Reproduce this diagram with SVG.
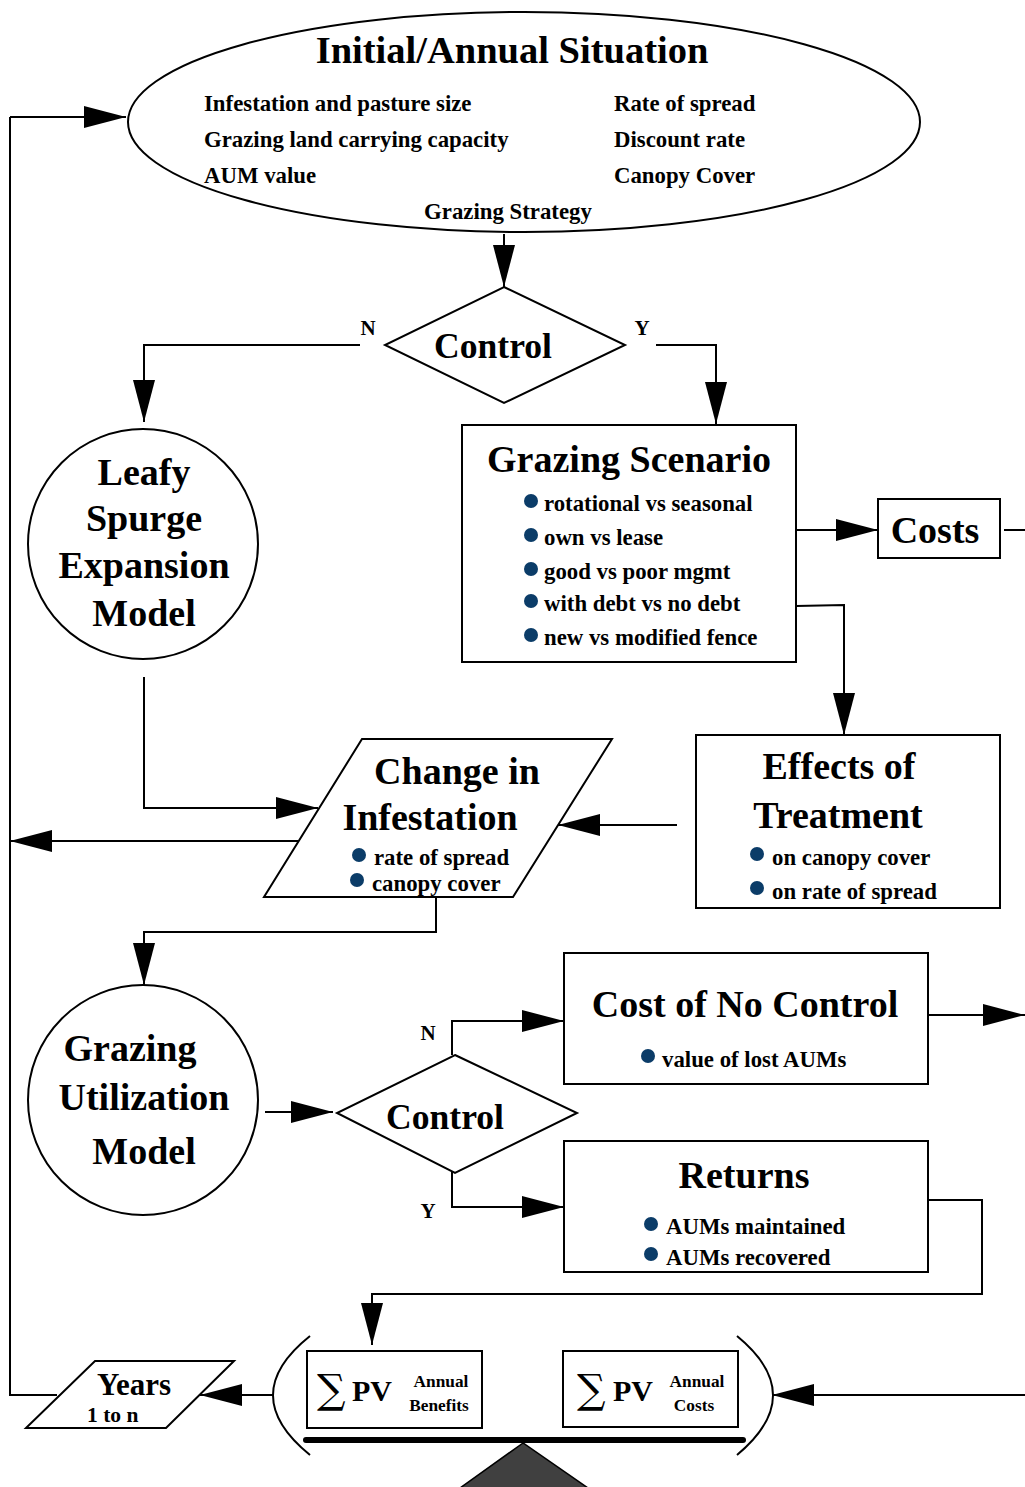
<svg xmlns="http://www.w3.org/2000/svg" width="1025" height="1487" viewBox="0 0 1025 1487">
<defs>
<style>
text{font-family:"Liberation Serif","Times New Roman",serif;font-weight:bold;fill:#000}
.sh{fill:#fff;stroke:#000;stroke-width:2}
.ln{fill:none;stroke:#000;stroke-width:2}
.arr{fill:none;stroke:#000;stroke-width:2;marker-end:url(#ah)}
.t34{font-size:35.6px}
.t36{font-size:38px}
.t21{font-size:22.8px}
.t20{font-size:21px}
.b{fill:#0b3c68}
.c{text-anchor:middle}
</style>
<marker id="ah" markerUnits="userSpaceOnUse" markerWidth="44" markerHeight="24" refX="42" refY="11" orient="auto">
<path d="M0,0 L42,11 L0,22 z" fill="#000"/>
</marker>
</defs>
<rect width="1025" height="1487" fill="#fff"/>

<g id="connectors">
<path class="arr" d="M504,234 L504,287"/>
<path class="arr" d="M360,345 L144,345 L144,422"/>
<path class="arr" d="M656,345 L716,345 L716,424"/>
<path class="arr" d="M796,530 L878,530"/>
<path class="ln" d="M1004,530 L1025,530"/>
<path class="arr" d="M796,606 L844,605 L844,735"/>
<path class="arr" d="M677,825 L558,825"/>
<path class="arr" d="M144,677 L144,808 L318,808"/>
<path class="arr" d="M298,841 L10,841"/>
<path class="ln" d="M57,1395 L10,1395 L10,117"/>
<path class="arr" d="M10,117 L126,117"/>
<path class="arr" d="M436,897 L436,932 L144,932 L144,985"/>
<path class="arr" d="M265,1112 L333,1112"/>
<path class="arr" d="M452,1055 L452,1021 L564,1021"/>
<path class="arr" d="M452,1172 L452,1207 L564,1207"/>
<path class="arr" d="M928,1015 L1025,1015"/>
<path class="arr" d="M926,1200 L982,1200 L982,1294 L372,1294 L372,1345"/>
<path class="arr" d="M273,1395 L200,1395"/>
<path class="arr" d="M1025,1395 L772,1395"/>
</g>

<g id="initial">
<ellipse class="sh" cx="524" cy="122" rx="396" ry="110"/>
<text class="c" x="512" y="63" style="font-size:38.5px">Initial/Annual Situation</text>
<text class="t21" x="204" y="111">Infestation and pasture size</text>
<text class="t21" x="204" y="147">Grazing land carrying capacity</text>
<text class="t21" x="204" y="183">AUM value</text>
<text class="t21" x="614" y="111">Rate of spread</text>
<text class="t21" x="614" y="147">Discount rate</text>
<text class="t21" x="614" y="183">Canopy Cover</text>
<text class="t21 c" x="508" y="219">Grazing Strategy</text>
</g>

<g id="control1">
<polygon class="sh" points="504,287 625,345 504,403 385,345"/>
<text class="t34 c" x="493" y="358">Control</text>
<text class="t20 c" x="368" y="335">N</text>
<text class="t20 c" x="642" y="335">Y</text>
</g>

<g id="leafy">
<circle class="sh" cx="143" cy="544" r="115"/>
<text class="t36 c" x="144" y="485">Leafy</text>
<text class="t36 c" x="144" y="531">Spurge</text>
<text class="t36 c" x="144" y="578">Expansion</text>
<text class="t36 c" x="144" y="626">Model</text>
</g>

<g id="scenario">
<rect class="sh" x="462" y="425" width="334" height="237"/>
<text class="t36 c" x="629" y="472">Grazing Scenario</text>
<circle class="b" cx="531" cy="501" r="7"/>
<circle class="b" cx="531" cy="535" r="7"/>
<circle class="b" cx="531" cy="569" r="7"/>
<circle class="b" cx="531" cy="601" r="7"/>
<circle class="b" cx="531" cy="635" r="7"/>
<text class="t21" x="544" y="511">rotational vs seasonal</text>
<text class="t21" x="544" y="545">own vs lease</text>
<text class="t21" x="544" y="579">good vs poor mgmt</text>
<text class="t21" x="544" y="611">with debt vs no debt</text>
<text class="t21" x="544" y="645">new vs modified fence</text>
</g>

<g id="costs">
<rect class="sh" x="878" y="499" width="122" height="59"/>
<text class="t36 c" x="935" y="543">Costs</text>
</g>

<g id="effects">
<rect class="sh" x="696" y="735" width="304" height="173"/>
<text class="t36 c" x="839" y="779">Effects of</text>
<text class="t36 c" x="838" y="828">Treatment</text>
<circle class="b" cx="757" cy="854" r="7"/>
<circle class="b" cx="757" cy="888" r="7"/>
<text class="t21" x="772" y="865">on canopy cover</text>
<text class="t21" x="772" y="899">on rate of spread</text>
</g>

<g id="change">
<polygon class="sh" points="362,739 612,739 513,897 264,897"/>
<text class="t36 c" x="457" y="784">Change in</text>
<text class="t36 c" x="430" y="830">Infestation</text>
<circle class="b" cx="359" cy="855" r="7"/>
<circle class="b" cx="357" cy="880" r="7"/>
<text class="t21" x="374" y="865">rate of spread</text>
<text class="t21" x="372" y="891">canopy cover</text>
</g>

<g id="utilization">
<circle class="sh" cx="143" cy="1100" r="115"/>
<text class="t36 c" x="130" y="1061">Grazing</text>
<text class="t36 c" x="144" y="1110">Utilization</text>
<text class="t36 c" x="144" y="1164">Model</text>
</g>

<g id="control2">
<polygon class="sh" points="455,1055 577,1113 455,1173 337,1113"/>
<text class="t34 c" x="445" y="1129">Control</text>
<text class="t20 c" x="428" y="1040">N</text>
<text class="t20 c" x="428" y="1218">Y</text>
</g>

<g id="nocontrol">
<rect class="sh" x="564" y="953" width="364" height="131"/>
<text class="t36 c" x="745" y="1017">Cost of No Control</text>
<circle class="b" cx="648" cy="1056" r="7"/>
<text class="t21" x="662" y="1067">value of lost AUMs</text>
</g>

<g id="returns">
<rect class="sh" x="564" y="1141" width="364" height="131"/>
<text class="t36 c" x="744" y="1188">Returns</text>
<circle class="b" cx="651" cy="1224" r="7"/>
<circle class="b" cx="651" cy="1254" r="7"/>
<text class="t21" x="666" y="1234">AUMs maintained</text>
<text class="t21" x="666" y="1265">AUMs recovered</text>
</g>

<g id="balance">
<path class="ln" d="M310,1336 Q236,1395 310,1455"/>
<path class="ln" d="M737,1336 Q809,1395 737,1455"/>
<rect class="sh" x="307" y="1351" width="175" height="77"/>
<text x="317" y="1403" style="font-size:40px;font-weight:normal;font-family:'DejaVu Serif','Liberation Serif',serif">∑</text>
<text x="352" y="1401" style="font-size:30px">PV</text>
<text class="c" x="441" y="1387" style="font-size:17.3px">Annual</text>
<text class="c" x="439" y="1411" style="font-size:17.3px">Benefits</text>
<rect class="sh" x="563" y="1351" width="175" height="76"/>
<text x="577" y="1403" style="font-size:40px;font-weight:normal;font-family:'DejaVu Serif','Liberation Serif',serif">∑</text>
<text x="613" y="1401" style="font-size:30px">PV</text>
<text class="c" x="697" y="1387" style="font-size:17.3px">Annual</text>
<text class="c" x="694" y="1411" style="font-size:17.3px">Costs</text>
<line x1="306" y1="1440" x2="743" y2="1440" stroke="#000" stroke-width="6" stroke-linecap="round"/>
<polygon points="523,1443 460,1488 588,1488" fill="#404040" stroke="#000" stroke-width="1.5"/>
</g>

<g id="years">
<polygon class="sh" points="95,1361 234,1361 166,1428 26,1428"/>
<text class="c" x="134" y="1395" style="font-size:31px">Years</text>
<text x="87" y="1422" style="font-size:21.5px">1 to n</text>
</g>
</svg>
